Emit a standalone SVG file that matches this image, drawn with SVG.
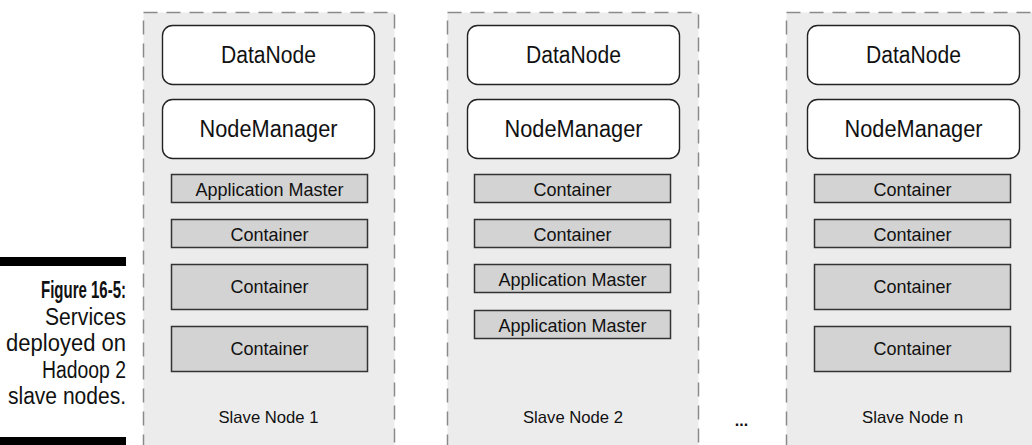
<svg xmlns="http://www.w3.org/2000/svg" width="1032" height="445" viewBox="0 0 1032 445">
<style>
  .panel { fill: #ececec; stroke: #8a8a8a; stroke-width: 1.5; stroke-dasharray: 14 9; }
  .svc { fill: #ffffff; stroke: #222; stroke-width: 1.4; }
  .ctr { fill: #d3d3d3; stroke: #333; stroke-width: 1.5; }
  .t { font-family: "Liberation Sans", Arial, sans-serif; fill: #111; text-anchor: middle; }
  .big { font-size: 23px; }
  .mid { font-size: 18.5px; }
  .sm { font-size: 16.5px; }
  .cap { font-family: "Liberation Sans", Arial, sans-serif; fill: #111; text-anchor: end; font-size: 23px; }
  .bar { fill: #000; }
</style>
<rect width="1032" height="445" fill="#ffffff"/>

<g id="caption">
  <rect class="bar" x="0" y="257" width="126" height="9"/>
  <text class="cap" x="126" y="298" font-weight="bold" textLength="85" lengthAdjust="spacingAndGlyphs">Figure 16-5:</text>
  <text class="cap" x="126" y="325" textLength="81" lengthAdjust="spacingAndGlyphs">Services</text>
  <text class="cap" x="126" y="351" textLength="120" lengthAdjust="spacingAndGlyphs">deployed on</text>
  <text class="cap" x="126" y="378" textLength="84" lengthAdjust="spacingAndGlyphs">Hadoop 2</text>
  <text class="cap" x="126" y="404" textLength="118" lengthAdjust="spacingAndGlyphs">slave nodes.</text>
  <rect class="bar" x="0" y="437" width="126" height="9"/>
</g>

<g id="slave1">
  <rect class="panel" x="143.5" y="12.5" width="251" height="450"/>
  <g id="s1-datanode"><rect class="svc" x="162.5" y="25.5" width="212" height="59" rx="10"/><text class="t big" x="268.5" y="63" textLength="95" lengthAdjust="spacingAndGlyphs">DataNode</text></g>
  <g id="s1-nodemanager"><rect class="svc" x="162.5" y="99.5" width="212" height="59" rx="10"/><text class="t big" x="268.5" y="137" textLength="138" lengthAdjust="spacingAndGlyphs">NodeManager</text></g>
  <g id="s1-am"><rect class="ctr" x="171.5" y="174.5" width="196" height="28"/><text class="t mid" x="269.5" y="195.5" textLength="148" lengthAdjust="spacingAndGlyphs">Application Master</text></g>
  <g id="s1-c1"><rect class="ctr" x="171.5" y="219.5" width="196" height="28"/><text class="t mid" x="269.5" y="240.5" textLength="78" lengthAdjust="spacingAndGlyphs">Container</text></g>
  <g id="s1-c2"><rect class="ctr" x="171.5" y="264.5" width="196" height="45"/><text class="t mid" x="269.5" y="293" textLength="78" lengthAdjust="spacingAndGlyphs">Container</text></g>
  <g id="s1-c3"><rect class="ctr" x="171.5" y="326.5" width="196" height="45"/><text class="t mid" x="269.5" y="355" textLength="78" lengthAdjust="spacingAndGlyphs">Container</text></g>
  <text class="t sm" x="268.5" y="423" textLength="100" lengthAdjust="spacingAndGlyphs">Slave Node 1</text>
</g>

<g id="slave2">
  <rect class="panel" x="447.5" y="12.5" width="251" height="450"/>
  <g id="s2-datanode"><rect class="svc" x="467.5" y="25.5" width="212" height="59" rx="10"/><text class="t big" x="573.5" y="63" textLength="95" lengthAdjust="spacingAndGlyphs">DataNode</text></g>
  <g id="s2-nodemanager"><rect class="svc" x="467.5" y="99.5" width="212" height="59" rx="10"/><text class="t big" x="573.5" y="137" textLength="138" lengthAdjust="spacingAndGlyphs">NodeManager</text></g>
  <g id="s2-c1"><rect class="ctr" x="474.5" y="174.5" width="196" height="28"/><text class="t mid" x="572.5" y="195.5" textLength="78" lengthAdjust="spacingAndGlyphs">Container</text></g>
  <g id="s2-c2"><rect class="ctr" x="474.5" y="219.5" width="196" height="28"/><text class="t mid" x="572.5" y="240.5" textLength="78" lengthAdjust="spacingAndGlyphs">Container</text></g>
  <g id="s2-am1"><rect class="ctr" x="474.5" y="264.5" width="196" height="28"/><text class="t mid" x="572.5" y="285.5" textLength="148" lengthAdjust="spacingAndGlyphs">Application Master</text></g>
  <g id="s2-am2"><rect class="ctr" x="474.5" y="310.5" width="196" height="28"/><text class="t mid" x="572.5" y="331.5" textLength="148" lengthAdjust="spacingAndGlyphs">Application Master</text></g>
  <text class="t sm" x="573" y="423" textLength="100" lengthAdjust="spacingAndGlyphs">Slave Node 2</text>
</g>

<text id="ellipsis" class="t" x="741.5" y="426" font-size="16" font-weight="bold">...</text>

<g id="slaven">
  <rect class="panel" x="786.5" y="12.5" width="251" height="450"/>
  <g id="sn-datanode"><rect class="svc" x="807.5" y="25.5" width="212" height="59" rx="10"/><text class="t big" x="913.5" y="63" textLength="95" lengthAdjust="spacingAndGlyphs">DataNode</text></g>
  <g id="sn-nodemanager"><rect class="svc" x="807.5" y="99.5" width="212" height="59" rx="10"/><text class="t big" x="913.5" y="137" textLength="138" lengthAdjust="spacingAndGlyphs">NodeManager</text></g>
  <g id="sn-c1"><rect class="ctr" x="814.5" y="174.5" width="196" height="28"/><text class="t mid" x="912.5" y="195.5" textLength="78" lengthAdjust="spacingAndGlyphs">Container</text></g>
  <g id="sn-c2"><rect class="ctr" x="814.5" y="219.5" width="196" height="28"/><text class="t mid" x="912.5" y="240.5" textLength="78" lengthAdjust="spacingAndGlyphs">Container</text></g>
  <g id="sn-c3"><rect class="ctr" x="814.5" y="264.5" width="196" height="45"/><text class="t mid" x="912.5" y="293" textLength="78" lengthAdjust="spacingAndGlyphs">Container</text></g>
  <g id="sn-c4"><rect class="ctr" x="814.5" y="326.5" width="196" height="45"/><text class="t mid" x="912.5" y="355" textLength="78" lengthAdjust="spacingAndGlyphs">Container</text></g>
  <text class="t sm" x="912.5" y="423" textLength="101" lengthAdjust="spacingAndGlyphs">Slave Node n</text>
</g>

<g id="connectors"/>
</svg>
